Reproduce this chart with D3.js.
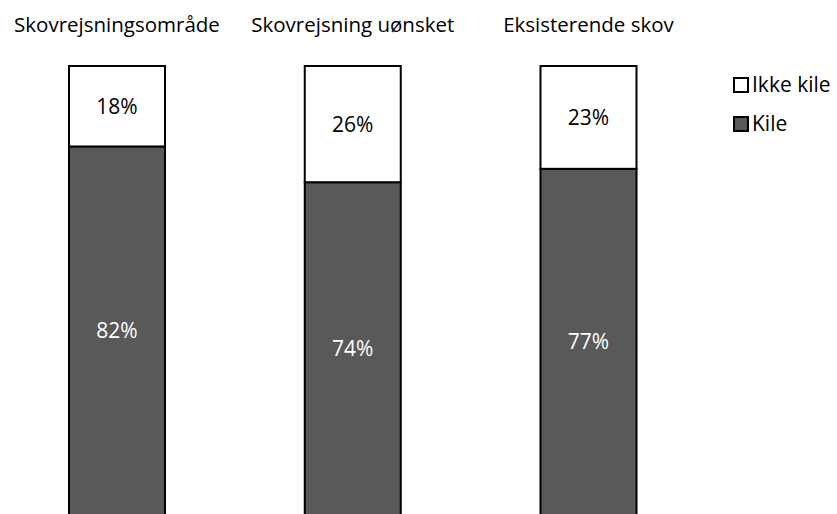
<!DOCTYPE html>
<html>
<head>
<meta charset="utf-8">
<script src="https://cdn.jsdelivr.net/npm/d3@7"></script>
<style>
  body { margin: 0; background: #fff; }
  text { font-family: "Open Sans", sans-serif; fill: #000; }
</style>
</head>
<body>
<div id="vis"></div>
<script>
// data
const CATEGORIES = ["Skovrejsningsområde", "Skovrejsning uønsket", "Eksisterende skov"];
const KILE = [82, 74, 77];
const IKKE_KILE = [18, 26, 23];
const SERIES = ["Ikke kile", "Kile"];
const COLORS = {"Ikke kile": "#ffffff", "Kile": "#595959"};

const FRAME_WIDTH = 837;
const FRAME_HEIGHT = 514;
const BAR_WIDTH = 96;

const FRAME = d3.select("#vis")
                .append("svg")
                  .attr("width", FRAME_WIDTH)
                  .attr("height", FRAME_HEIGHT);

// centres of the bars
const X_SCALE = d3.scalePoint()
                  .domain(CATEGORIES)
                  .range([117, 588.5]);

// 100% runs off the bottom of the frame
const Y_SCALE = d3.scaleLinear()
                  .domain([0, 100])
                  .range([513, 66]);

const rows = CATEGORIES.map((c, i) => ({cat: c, kile: KILE[i], ikke: IKKE_KILE[i]}));

// Kile at the bottom, Ikke kile stacked on top
const bars = FRAME.selectAll(".bar")
    .data(rows)
    .enter()
    .append("g")
      .attr("class", "bar");

bars.append("rect")
    .attr("x", (d) => X_SCALE(d.cat) - BAR_WIDTH / 2)
    .attr("y", (d) => Y_SCALE(d.kile))
    .attr("width", BAR_WIDTH)
    .attr("height", (d) => Y_SCALE(0) - Y_SCALE(d.kile) + 10)
    .attr("fill", COLORS["Kile"])
    .attr("stroke", "#000")
    .attr("stroke-width", 2);

bars.append("rect")
    .attr("x", (d) => X_SCALE(d.cat) - BAR_WIDTH / 2)
    .attr("y", (d) => Y_SCALE(d.kile + d.ikke))
    .attr("width", BAR_WIDTH)
    .attr("height", (d) => Y_SCALE(d.kile) - Y_SCALE(d.kile + d.ikke))
    .attr("fill", COLORS["Ikke kile"])
    .attr("stroke", "#000")
    .attr("stroke-width", 2);

// value labels
bars.append("text")
    .attr("x", (d) => X_SCALE(d.cat))
    .attr("y", (d) => (Y_SCALE(d.kile) + Y_SCALE(d.kile + d.ikke)) / 2 + 8)
    .attr("text-anchor", "middle")
    .attr("font-size", "21px")
    .text((d) => d.ikke + "%");

bars.append("text")
    .attr("x", (d) => X_SCALE(d.cat))
    .attr("y", (d) => (Y_SCALE(0) + Y_SCALE(d.kile)) / 2 + 8)
    .attr("text-anchor", "middle")
    .attr("font-size", "21px")
    .style("fill", "#fff")
    .text((d) => d.kile + "%");

// category titles
FRAME.selectAll(".title")
    .data(CATEGORIES)
    .enter()
    .append("text")
      .attr("class", "title")
      .attr("x", (d) => X_SCALE(d))
      .attr("y", 32)
      .attr("text-anchor", "middle")
      .attr("font-size", "20.5px")
      .text((d) => d);

// legend
const legend = FRAME.selectAll(".legend")
    .data(SERIES)
    .enter()
    .append("g")
      .attr("class", "legend")
      .attr("transform", (d, i) => "translate(734," + (78 + i * 39) + ")");

legend.append("rect")
    .attr("width", 14)
    .attr("height", 14)
    .attr("fill", (d) => COLORS[d])
    .attr("stroke", "#000")
    .attr("stroke-width", 2);

legend.append("text")
    .attr("x", 18)
    .attr("y", 14)
    .attr("font-size", "21px")
    .text((d) => d);
</script>
</body>
</html>
